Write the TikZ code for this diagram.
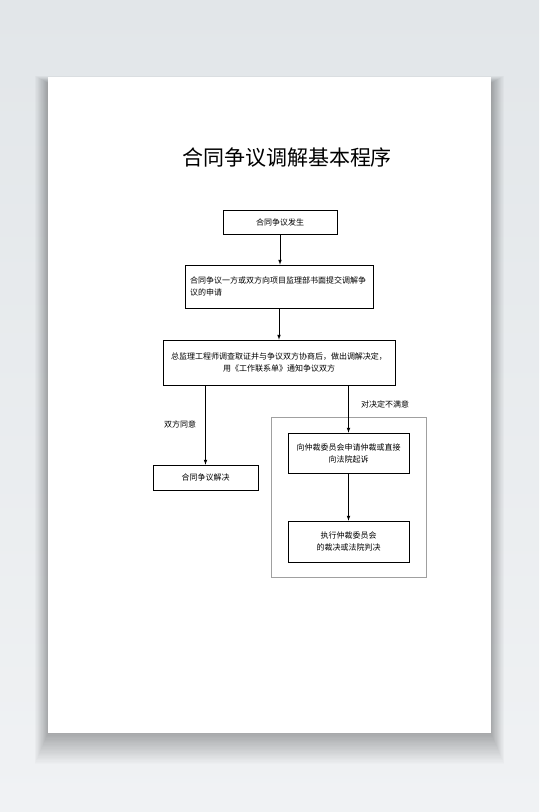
\documentclass[tikz,border=0pt]{standalone}
\usepackage{fontspec}
\setmainfont{Noto Sans CJK SC}
\usetikzlibrary{positioning}
\definecolor{backtop}{HTML}{E2E6E9}
\definecolor{backbot}{HTML}{F0F2F4}
\definecolor{framegray}{HTML}{A0A0A0}
\tikzset{
  box/.style={draw, line width=0.7pt, font=\fontsize{8}{12}\selectfont, inner sep=4pt, align=center},
  note/.style={font=\fontsize{8}{12}\selectfont, inner sep=0pt}
}
\begin{document}
\begin{tikzpicture}[x=1pt, y=-1pt, >=latex]
\useasboundingbox (0,0) rectangle (539,812);
\shade[top color=backtop, bottom color=backbot] (0,0) rectangle (539,812);
% shadow under the sheet
\foreach \i in {1,...,24}
  \fill[black, opacity=0.01] (48-0.55*\i,77-0.3*\i+6) rectangle (491+0.55*\i,733+1.3*\i);
\fill[white] (48,77) rectangle (491,733);

\node (t) at (287,158) {\fontsize{21}{24}\selectfont 合同争议调解基本程序};

\node[box, minimum width=114pt, minimum height=24pt] (a) at (280,222) {合同争议发生};
\node[box, minimum width=188pt, minimum height=43pt, align=left, text width=178pt] (b) at (279,286.5)
  {合同争议一方或双方向项目监理部书面提交调解争\\议的申请};
\node[box, minimum width=232pt, minimum height=45pt] (c) at (279,362.5)
  {总监理工程师调查取证并与争议双方协商后，做出调解决定，\\用《工作联系单》通知争议双方};
\node[box, minimum width=105pt, minimum height=25pt] (d) at (205.5,477.5) {合同争议解决};

\draw[framegray, line width=0.6pt] (271,417) rectangle (426,577);
\node[box, minimum width=121pt, minimum height=40pt] (e) at (348.5,453)
  {向仲裁委员会申请仲裁或直接\\向法院起诉};
\node[box, minimum width=121pt, minimum height=41pt] (f) at (348.5,541.5)
  {执行仲裁委员会\\的裁决或法院判决};

\node[note] (l) at (180,424) {双方同意};
\node[note] (r) at (385,404) {对决定不满意};

\draw[-latex, line width=0.7pt] (a.south) -- (a.south |- b.north);
\draw[-latex, line width=0.7pt] (b.south) -- (c.north);
\draw[-latex, line width=0.7pt] (c.south -| d.north) -- (d.north);
\draw[-latex, line width=0.7pt] (c.south -| e.north) -- (e.north);
\draw[-latex, line width=0.7pt] (e.south) -- (f.north);
\end{tikzpicture}
\end{document}
